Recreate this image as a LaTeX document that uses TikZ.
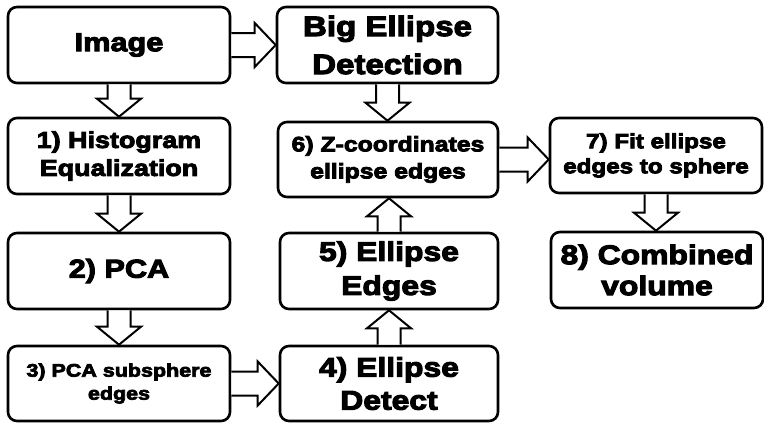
\documentclass[tikz,border=0pt]{standalone}
\usepackage{fontspec}
\newfontfamily\hv{Liberation Sans}[BoldFeatures={FakeBold=4,FakeStretch=1.18}]
\usetikzlibrary{calc}
\tikzset{
  box/.style={draw, line width=2.6pt, rounded corners=9pt, align=center,
    inner sep=0pt, minimum height=76pt},
  blk/.style={draw, line width=2pt, line join=miter, fill=white},
}
\newcommand\dnArrow[2]{\draw[blk] let \p1=(#1.south), \p2=(#2.north) in
  (\x1-11.5pt,\y1) -- (\x1-11.5pt,\y2+18pt) -- (\x1-22pt,\y2+18pt) -- (\x1,\y2)
  -- (\x1+22pt,\y2+18pt) -- (\x1+11.5pt,\y2+18pt) -- (\x1+11.5pt,\y1);}
\newcommand\upArrow[2]{\draw[blk] let \p1=(#1.north), \p2=(#2.south) in
  (\x1-11.5pt,\y1) -- (\x1-11.5pt,\y2-18pt) -- (\x1-22pt,\y2-18pt) -- (\x1,\y2)
  -- (\x1+22pt,\y2-18pt) -- (\x1+11.5pt,\y2-18pt) -- (\x1+11.5pt,\y1);}
\newcommand\rtArrow[2]{\draw[blk] let \p1=(#1.east), \p2=(#2.west) in
  (\x1,\y1+12pt) -- (\x2-21pt,\y1+12pt) -- (\x2-21pt,\y1+22pt) -- (\x2,\y1)
  -- (\x2-21pt,\y1-22pt) -- (\x2-21pt,\y1-12pt) -- (\x1,\y1-12pt);}
\begin{document}
\begin{tikzpicture}[x=1pt,y=-1pt]
\useasboundingbox (0,0) rectangle (764,423);
\node[box, minimum width=222pt, font={\hv\bfseries\fontsize{26}{32}\selectfont}] (img) at (119,45) {Image};
\node[box, minimum width=221pt, font={\hv\bfseries\fontsize{28}{38}\selectfont}] (big) at (387.5,45) {Big Ellipse\\Detection};
\node[box, minimum width=222pt, font={\hv\bfseries\fontsize{22.8}{28}\selectfont}] (hist) at (119,156) {1) Histogram\\Equalization};
\node[box, minimum width=222pt, font={\hv\bfseries\fontsize{26}{32}\selectfont}] (pca) at (119,271) {2) PCA};
\node[box, minimum width=222pt, minimum height=75pt, font={\hv\bfseries\fontsize{18.2}{23}\selectfont}] (sub) at (119,383.5) {3) PCA subsphere\\edges};
\node[box, minimum width=218pt, minimum height=75pt, font={\hv\bfseries\fontsize{27}{33}\selectfont}] (e4) at (389,383.5) {4) Ellipse\\Detect};
\node[box, minimum width=218pt, font={\hv\bfseries\fontsize{27}{34}\selectfont}] (e5) at (389,271) {5) Ellipse\\Edges};
\node[box, minimum width=220pt, minimum height=75pt, font={\hv\bfseries\fontsize{21}{27}\selectfont}] (z6) at (388,159.5) {6) Z-coordinates\\ellipse edges};
\node[box, minimum width=212pt, minimum height=75pt, font={\hv\bfseries\fontsize{20.5}{25}\selectfont}] (f7) at (656,155.5) {7) Fit ellipse\\edges to sphere};
\node[box, minimum width=212pt, font={\hv\bfseries\fontsize{27}{31}\selectfont}] (c8) at (657,270) {8) Combined\\volume};
\rtArrow{img}{big}
\dnArrow{img}{hist}
\dnArrow{hist}{pca}
\dnArrow{pca}{sub}
\rtArrow{sub}{e4}
\upArrow{e4}{e5}
\upArrow{e5}{z6}
\dnArrow{big}{z6}
\rtArrow{z6}{f7}
\dnArrow{f7}{c8}
\end{tikzpicture}
\end{document}
